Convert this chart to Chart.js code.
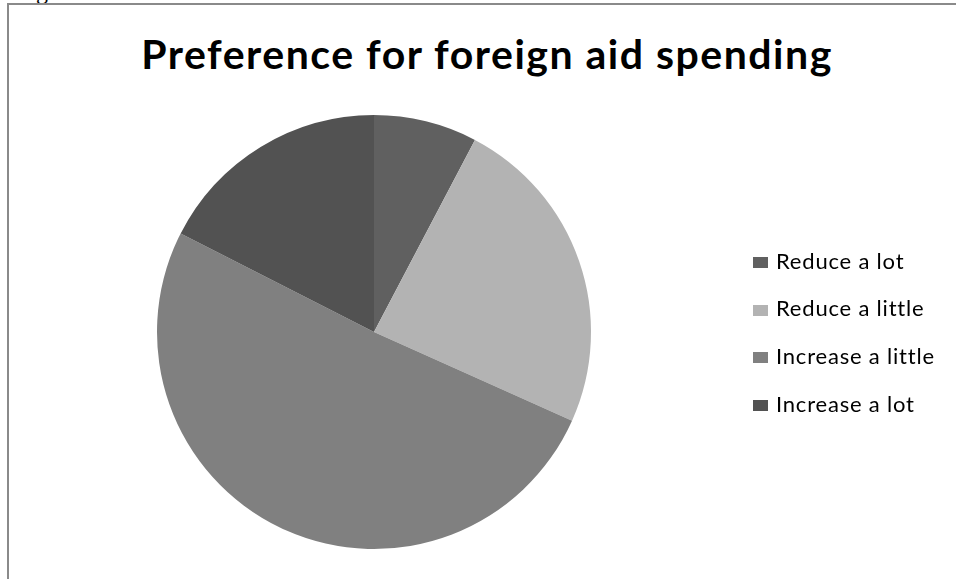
<!DOCTYPE html>
<html lang="en">
<head>
  <meta charset="UTF-8" />
  <title>Preference for foreign aid spending</title>
  <script src="https://cdn.jsdelivr.net/npm/chart.js"></script>
  <style>
    html, body { margin: 0; padding: 0; background: #fff; }
    body { width: 956px; height: 579px; position: relative; overflow: hidden; font-family: Lato, "Open Sans", sans-serif; color: #000; }
    .cut { position: absolute; left: 36px; top: -22px; font-family: "Liberation Serif", serif; font-size: 24px; }
    .frame { position: absolute; left: 7px; top: 3px; width: 960px; height: 600px; border-top: 2px solid #8a8a8a; border-left: 2px solid #8a8a8a; }
    h1 { position: absolute; left: 0; width: 974px; top: 33px; margin: 0; text-align: center; font-size: 41px; line-height: 41px; font-weight: 700; letter-spacing: 1.5px; }
    canvas { position: absolute; left: 0; top: 0; }
    #legend { position: absolute; left: 753px; top: 248.5px; }
    .item { height: 47.7px; display: flex; align-items: flex-start; font-size: 22px; line-height: 24px; letter-spacing: 0.8px; }
    .key { width: 15px; height: 11px; margin: 8.5px 8px 0 0; }
  </style>
</head>
<body>
  <div class="cut">g</div>
  <div class="frame"></div>
  <h1>Preference for foreign aid spending</h1>
  <canvas id="pie" width="956" height="579"></canvas>
  <div id="legend"></div>
  <script>
    const categories = ['Reduce a lot', 'Reduce a little', 'Increase a little', 'Increase a lot'];
    const shares = [7.7, 24.0, 50.8, 17.5];
    const colors = ['#606060', '#b3b3b3', '#808080', '#525252'];

    const legend = document.getElementById('legend');
    categories.forEach((name, i) => {
      const row = document.createElement('div');
      row.className = 'item';
      row.innerHTML = `<span class="key" style="background:${colors[i]}"></span><span>${name}</span>`;
      legend.appendChild(row);
    });

    new Chart(document.getElementById('pie'), {
      type: 'pie',
      data: {
        labels: categories,
        datasets: [{
          data: shares,
          backgroundColor: colors,
          borderWidth: 0
        }]
      },
      options: {
        responsive: false,
        animation: false,
        layout: { padding: { left: 157, right: 365, top: 115, bottom: 30 } },
        plugins: {
          legend: { display: false },
          tooltip: { enabled: false }
        }
      }
    });
  </script>
</body>
</html>
